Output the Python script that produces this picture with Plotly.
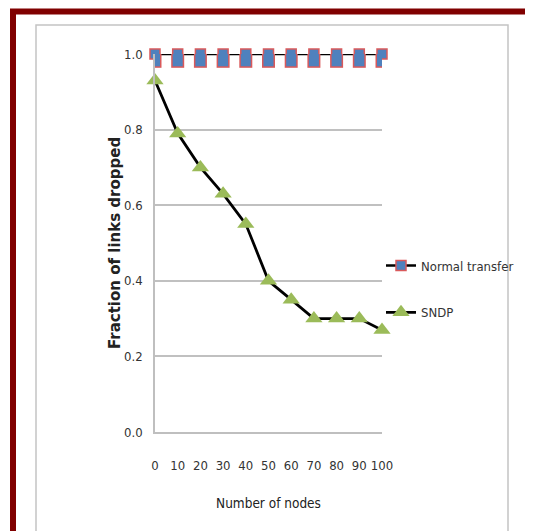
import plotly.graph_objects as go

nodes = [0, 10, 20, 30, 40, 50, 60, 70, 80, 90, 100]
normal_transfer = [1.0, 1.0, 1.0, 1.0, 1.0, 1.0, 1.0, 1.0, 1.0, 1.0, 1.0]
sndp = [0.93, 0.79, 0.70, 0.63, 0.55, 0.40, 0.35, 0.30, 0.30, 0.30, 0.27]
y_ticks = [0.0, 0.2, 0.4, 0.6, 0.8, 1.0]

BLUE = "#4F81BD"
RED = "#D9595B"
GREEN = "#9BBB59"
NARROW = "DejaVu Sans Condensed, Liberation Sans Narrow, Arial Narrow, sans-serif"

fig = go.Figure()

# Normal transfer: line + legend entry
fig.add_trace(go.Scatter(
    x=nodes, y=normal_transfer, name="Normal transfer", mode="lines+markers",
    line=dict(color="black", width=2.5),
    marker=dict(symbol="square", size=10, color=BLUE, line=dict(color=RED, width=1.5)),
    legendgroup="a", cliponaxis=False,
))
# tall rectangular markers (red border + blue fill) via thick error bars
fig.add_trace(go.Scatter(
    x=nodes, y=normal_transfer, mode="markers", showlegend=False, hoverinfo="skip",
    marker=dict(size=1, opacity=0), legendgroup="a", cliponaxis=False,
    error_y=dict(type="constant", value=0.0365, thickness=13, width=0, color=RED),
))
fig.add_trace(go.Scatter(
    x=nodes, y=normal_transfer, mode="markers", showlegend=False, hoverinfo="skip",
    marker=dict(size=1, opacity=0), legendgroup="a", cliponaxis=False,
    error_y=dict(type="constant", value=0.0325, thickness=10, width=0, color=BLUE),
))
# SNDP
fig.add_trace(go.Scatter(
    x=nodes, y=sndp, name="SNDP", mode="lines+markers",
    line=dict(color="black", width=2.8),
    marker=dict(symbol="triangle-up", size=15, color=GREEN, line=dict(width=0)),
    legendgroup="b", cliponaxis=False,
))

# paper coords relative to plot area (x 0->155px, 1->382px ; y 0->432px, 1->54px)
def px_x(p):
    return (p - 155) / 227.0

def px_y(p):
    return (432 - p) / 378.0

shapes = [
    dict(type="rect", xref="paper", yref="paper",
         x0=px_x(36), x1=px_x(508), y0=px_y(560), y1=px_y(25),
         line=dict(color="#C4C4C4", width=1.5), layer="below"),
    dict(type="rect", xref="paper", yref="paper",
         x0=px_x(13), x1=px_x(560), y0=px_y(560), y1=px_y(11.5),
         line=dict(color="#800000", width=6), layer="above"),
]

annotations = [
    dict(text="<b>Fraction of links dropped</b>", xref="paper", yref="paper",
         x=px_x(115), y=0.5, xanchor="center", yanchor="middle", textangle=-90,
         showarrow=False,
         font=dict(family="DejaVu Sans, Verdana, sans-serif", size=15, color="#222222")),
]

PAGE = 8  # page body offset
fig.update_layout(
    width=533, height=531,
    margin=dict(l=155 - PAGE, r=533 - (382 - PAGE), t=54 - PAGE, b=531 - (432 - PAGE),
                autoexpand=False),
    paper_bgcolor="white", plot_bgcolor="white",
    showlegend=True,
    legend=dict(x=px_x(381), xanchor="left", y=px_y(289), yanchor="middle",
                traceorder="grouped", tracegroupgap=27,
                font=dict(family=NARROW, size=13, color="#333333"),
                bgcolor="rgba(0,0,0,0)"),
    shapes=shapes,
    annotations=annotations,
    xaxis=dict(
        range=[0, 100], tickvals=nodes, ticktext=[str(v) for v in nodes],
        automargin=False, tickangle=0,
        showgrid=False, zeroline=False, showline=True, linecolor="#BFBFBF", linewidth=1.5,
        ticks="outside", ticklen=21, tickcolor="rgba(0,0,0,0)",
        tickfont=dict(family=NARROW, size=13, color="#333333"),
        title=dict(text="Number of nodes", standoff=26,
                   font=dict(family=NARROW, size=13.5, color="#222222")),
    ),
    yaxis=dict(
        range=[0, 1], tickvals=y_ticks, tickformat=".1f", automargin=False,
        showgrid=True, gridcolor="#C0C0C0", gridwidth=1.5,
        zeroline=False, showline=True, linecolor="#BFBFBF", linewidth=1.5,
        ticks="outside", ticklen=8, tickcolor="rgba(0,0,0,0)",
        tickfont=dict(family=NARROW, size=13, color="#333333"),
    ),
)

fig.write_html("out.html")
